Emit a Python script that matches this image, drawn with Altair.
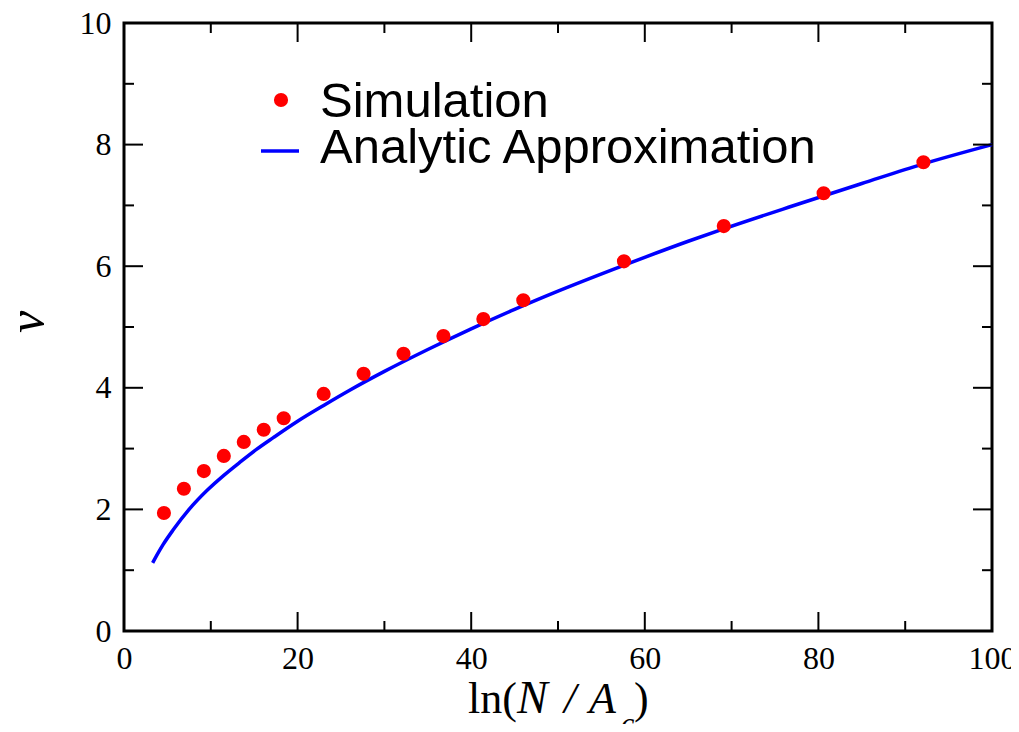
import altair as alt
import pandas as pd

# ---- data ----
sim_x = [4.6, 6.9, 9.2, 11.5, 13.8, 16.1, 18.4, 23.0, 27.6, 32.2, 36.8, 41.4, 46.0, 57.6, 69.1, 80.6, 92.1]
sim_y = [1.94, 2.34, 2.63, 2.88, 3.11, 3.31, 3.50, 3.90, 4.23, 4.56, 4.85, 5.13, 5.44, 6.08, 6.66, 7.20, 7.71]

fit_x = [3.3, 4.0, 4.5, 5.65, 7.5, 9.55, 11.5, 13.4, 15.3, 17.2, 20, 23, 26, 30, 35, 40, 45, 50, 57.5, 65, 69, 77, 85, 92, 100]
fit_y = [1.12, 1.30, 1.42, 1.66, 2.00, 2.31, 2.56, 2.78, 2.99, 3.18, 3.45, 3.71, 3.96, 4.27, 4.63, 4.97, 5.29, 5.59, 6.01, 6.41, 6.61, 6.99, 7.36, 7.68, 8.0]

x_major = [0, 20, 40, 60, 80, 100]
x_minor = [10, 30, 50, 70, 90]
y_major = [0, 2, 4, 6, 8, 10]
y_minor = [1, 3, 5, 7, 9]

legend_labels = ["Simulation", "Analytic Approximation"]

W, H = 868, 608
MAJ, MIN = 19, 10

sim = pd.DataFrame({"x": sim_x, "y": sim_y})
fit = pd.DataFrame({"x": fit_x, "y": fit_y})

xs = alt.Scale(domain=[0, 100], nice=False, zero=False)
ys = alt.Scale(domain=[0, 10], nice=False, zero=False)

x_axis = alt.Axis(values=x_major, format="d", title=None, tickSize=0, domain=False,
                  grid=False, labelFont="Liberation Serif", labelFontSize=32,
                  labelColor="black", labelPadding=12, labelFlush=False, labelOverlap=False)
y_axis = alt.Axis(values=y_major, format="d", title=None, tickSize=0, domain=False,
                  grid=False, labelFont="Liberation Serif", labelFontSize=32,
                  labelColor="black", labelPadding=13, labelFlush=False, labelOverlap=False)

X = lambda: alt.X("x:Q", scale=xs, axis=x_axis)
Y = lambda: alt.Y("y:Q", scale=ys, axis=y_axis)

line = alt.Chart(fit).mark_line(color="#0000ff", strokeWidth=3.5, interpolate="monotone").encode(x=X(), y=Y())
pts = alt.Chart(sim).mark_circle(color="#ff0000", size=200, opacity=1).encode(x=X(), y=Y())

# inward ticks on all four sides
def xticks(vals, length):
    d = pd.DataFrame({"x": vals})
    bot = alt.Chart(d).mark_rule(color="black", strokeWidth=2).encode(
        x=X(), y=alt.value(H), y2=alt.value(H - length))
    top = alt.Chart(d).mark_rule(color="black", strokeWidth=2).encode(
        x=X(), y=alt.value(0), y2=alt.value(length))
    return [bot, top]

def yticks(vals, length):
    d = pd.DataFrame({"y": vals})
    left = alt.Chart(d).mark_rule(color="black", strokeWidth=2).encode(
        y=Y(), x=alt.value(0), x2=alt.value(length))
    right = alt.Chart(d).mark_rule(color="black", strokeWidth=2).encode(
        y=Y(), x=alt.value(W), x2=alt.value(W - length))
    return [left, right]

ticks = xticks(x_major, MAJ) + xticks(x_minor, MIN) + yticks(y_major, MAJ) + yticks(y_minor, MIN)

one = pd.DataFrame({"k": [0]})

# manual legend
leg_pt = alt.Chart(one).mark_circle(color="#ff0000", size=200, opacity=1).encode(
    x=alt.value(157), y=alt.value(77))
leg_ln = alt.Chart(one).mark_rule(color="#0000ff", strokeWidth=3.5).encode(
    x=alt.value(137), x2=alt.value(175), y=alt.value(128))
leg_t1 = alt.Chart(one).mark_text(text=legend_labels[0], font="Liberation Sans", fontSize=49,
                                   align="left", baseline="alphabetic", color="black").encode(
    x=alt.value(196), y=alt.value(94))
leg_t2 = alt.Chart(one).mark_text(text=legend_labels[1], font="Liberation Sans", fontSize=49,
                                   align="left", baseline="alphabetic", color="black").encode(
    x=alt.value(196), y=alt.value(140))

# axis titles as text pieces (x title has a subscript)
def txt(s, x, y, size=44, style="normal", angle=0, align="left", baseline="alphabetic"):
    kw = dict(text=s, font="Liberation Serif", fontSize=size, fontStyle=style,
              align=align, baseline=baseline, color="black")
    if angle:
        kw["angle"] = angle
    return alt.Chart(one).mark_text(**kw).encode(x=alt.value(x), y=alt.value(y))

ox, oy = 124, 23
title_parts = [
    txt("ln(", 468 - ox, 713 - oy),
    txt("N", 517 - ox, 713 - oy, size=46, style="italic"),
    txt("/", 564 - ox, 713 - oy, style="italic"),
    txt("A", 589 - ox, 713 - oy, style="italic"),
    txt("c", 621 - ox, 733 - oy, size=30, style="italic"),
    txt(")", 634 - ox, 713 - oy),
    txt("v", 28 - ox, 322 - oy, size=50, style="italic", angle=270, align="center", baseline="middle"),
]

chart = alt.layer(line, pts, *ticks, leg_pt, leg_ln, leg_t1, leg_t2, *title_parts).properties(
    width=W, height=H,
    autosize=alt.AutoSizeParams(type="none"),
    padding={"left": 116, "top": 15, "right": 19, "bottom": 93},
    background="white",
).configure_view(stroke="black", strokeWidth=3)

chart.save("out.html", embed_options={"renderer": "svg", "actions": False})
